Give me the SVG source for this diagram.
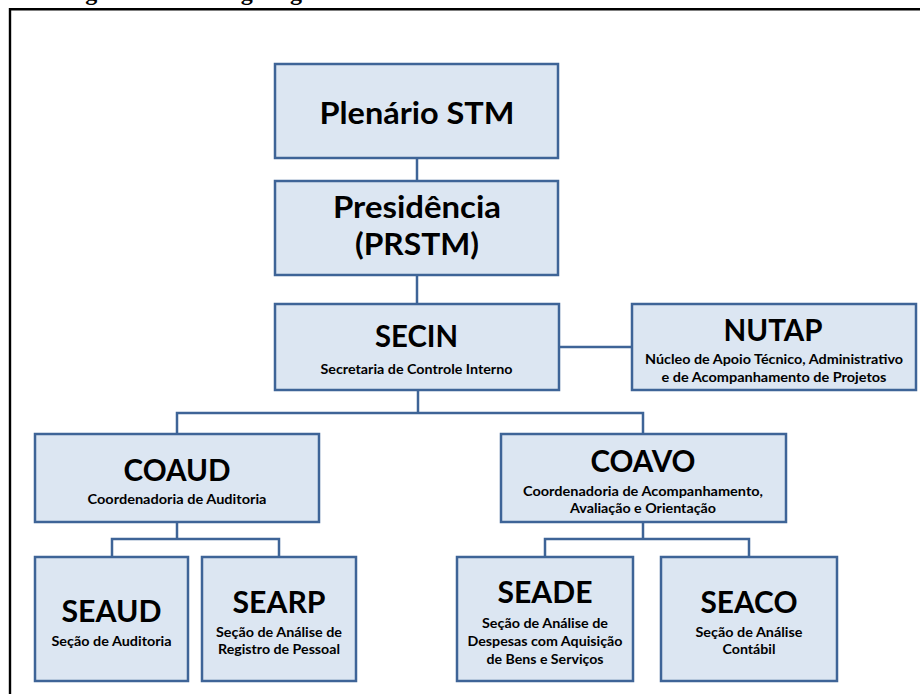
<svg xmlns="http://www.w3.org/2000/svg" width="920" height="694" viewBox="0 0 920 694">
<style>
.box{fill:#DCE6F2;stroke:#3E6497;stroke-width:2.5}
.con{fill:none;stroke:#3E6497;stroke-width:2.5}
.big{font-family:Lato,"Liberation Sans",sans-serif;font-weight:bold;font-size:30px;fill:#000;text-anchor:middle}
.sm{font-family:Lato,"Liberation Sans",sans-serif;font-weight:bold;font-size:13px;fill:#000;text-anchor:middle}
.title{font-family:"Liberation Serif",serif;font-weight:bold;font-size:24px;fill:#000}
</style>
<rect width="920" height="694" fill="#fff"/>
<text class="title" x="64" y="-0.5">Figura 1.1.1 – Organograma Secretaria de Controle Interno</text>
<path d="M920,9.2 H10 V694" fill="none" stroke="#000" stroke-width="2.4"/>
<g id="connectors">
<path class="con" d="M417,158 V181"/>
<path class="con" d="M417,275 V304"/>
<path class="con" d="M559,347 H632"/>
<path class="con" d="M418,390 V413"/>
<path class="con" d="M177,434 V413 H643 V434"/>
<path class="con" d="M177,522 V539"/>
<path class="con" d="M112,557 V539 H279 V557"/>
<path class="con" d="M643,522 V539"/>
<path class="con" d="M545,557 V539 H749 V557"/>
</g>
<g id="plenario">
<rect class="box" x="275" y="64" width="283" height="94"/>
<text class="big" x="417" y="124" textLength="195" lengthAdjust="spacingAndGlyphs">Plenário STM</text>
</g>
<g id="presidencia">
<rect class="box" x="275" y="181" width="283" height="94"/>
<text class="big" x="417" y="218" textLength="168" lengthAdjust="spacingAndGlyphs">Presidência</text>
<text class="big" x="417" y="255" textLength="124" lengthAdjust="spacingAndGlyphs">(PRSTM)</text>
</g>
<g id="secin">
<rect class="box" x="275" y="304" width="284" height="86"/>
<text class="big" x="416.5" y="347" textLength="83" lengthAdjust="spacingAndGlyphs">SECIN</text>
<text class="sm" x="416.5" y="374" textLength="192" lengthAdjust="spacingAndGlyphs">Secretaria de Controle Interno</text>
</g>
<g id="nutap">
<rect class="box" x="632" y="304" width="284" height="86"/>
<text class="big" x="773" y="341" textLength="99" lengthAdjust="spacingAndGlyphs">NUTAP</text>
<text class="sm" x="774" y="364" textLength="258" lengthAdjust="spacingAndGlyphs">Núcleo de Apoio Técnico, Administrativo</text>
<text class="sm" x="774" y="382" textLength="225" lengthAdjust="spacingAndGlyphs">e de Acompanhamento de Projetos</text>
</g>
<g id="coaud">
<rect class="box" x="35" y="434" width="284" height="88"/>
<text class="big" x="177" y="481" textLength="107" lengthAdjust="spacingAndGlyphs">COAUD</text>
<text class="sm" x="177" y="504" textLength="179" lengthAdjust="spacingAndGlyphs">Coordenadoria de Auditoria</text>
</g>
<g id="coavo">
<rect class="box" x="501" y="434" width="285" height="88"/>
<text class="big" x="643" y="472" textLength="105" lengthAdjust="spacingAndGlyphs">COAVO</text>
<text class="sm" x="643" y="496" textLength="240" lengthAdjust="spacingAndGlyphs">Coordenadoria de Acompanhamento,</text>
<text class="sm" x="643" y="513" textLength="146" lengthAdjust="spacingAndGlyphs">Avaliação e Orientação</text>
</g>
<g id="seaud">
<rect class="box" x="35" y="557" width="153" height="124"/>
<text class="big" x="111.5" y="622" textLength="100" lengthAdjust="spacingAndGlyphs">SEAUD</text>
<text class="sm" x="111.5" y="646" textLength="120" lengthAdjust="spacingAndGlyphs">Seção de Auditoria</text>
</g>
<g id="searp">
<rect class="box" x="202" y="557" width="154" height="124"/>
<text class="big" x="279" y="613" textLength="93" lengthAdjust="spacingAndGlyphs">SEARP</text>
<text class="sm" x="279" y="637" textLength="126" lengthAdjust="spacingAndGlyphs">Seção de Análise de</text>
<text class="sm" x="279" y="654" textLength="122" lengthAdjust="spacingAndGlyphs">Registro de Pessoal</text>
</g>
<g id="seade">
<rect class="box" x="457" y="557" width="176" height="124"/>
<text class="big" x="545" y="603" textLength="95" lengthAdjust="spacingAndGlyphs">SEADE</text>
<text class="sm" x="545" y="628" textLength="126" lengthAdjust="spacingAndGlyphs">Seção de Análise de</text>
<text class="sm" x="545" y="646" textLength="155" lengthAdjust="spacingAndGlyphs">Despesas com Aquisição</text>
<text class="sm" x="545" y="664" textLength="117" lengthAdjust="spacingAndGlyphs">de Bens e Serviços</text>
</g>
<g id="seaco">
<rect class="box" x="661" y="557" width="176" height="124"/>
<text class="big" x="749" y="613" textLength="97" lengthAdjust="spacingAndGlyphs">SEACO</text>
<text class="sm" x="749" y="637" textLength="107" lengthAdjust="spacingAndGlyphs">Seção de Análise</text>
<text class="sm" x="749" y="654" textLength="53" lengthAdjust="spacingAndGlyphs">Contábil</text>
</g>
</svg>
